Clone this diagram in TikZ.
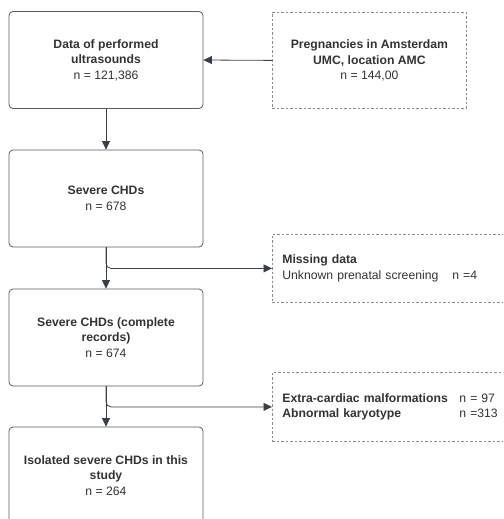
\documentclass[tikz,border=0pt]{standalone}
\usepackage{fontspec}
\setmainfont{Liberation Sans}
\usetikzlibrary{arrows.meta}
\definecolor{txt}{HTML}{333333}
\definecolor{ln}{HTML}{5C5C5C}
\definecolor{dln}{HTML}{8A8A8A}
\definecolor{arr}{HTML}{3A3F47}
\begin{document}
\begin{tikzpicture}[x=1pt,y=-1pt,
  every node/.style={font=\fontsize{12.2}{15.5}\selectfont, text=txt},
  mainbox/.style={draw=ln, line width=0.8pt, rounded corners=4pt, minimum width=194pt, minimum height=97pt, align=center, inner sep=4pt},
  sidebox/.style={draw=dln, line width=0.8pt, dash pattern=on 2.5pt off 2pt, anchor=north west, inner sep=10pt},
  conn/.style={draw=arr, line width=0.8pt, -{Triangle[length=8.5pt,width=8pt]}}]
\useasboundingbox (0,0) rectangle (503,519);
\clip (0,0) rectangle (503,519);
\node[mainbox] (b1) at (106,60) {\textbf{Data of performed}\\\textbf{ultrasounds}\\n = 121,386};
\node[sidebox, minimum width=194pt, minimum height=96pt, align=center] (src) at (272,12) {\textbf{Pregnancies in Amsterdam}\\\textbf{UMC, location AMC}\\n = 144,00};
\node[mainbox] (b2) at (106,198.5) {\textbf{Severe CHDs}\\n = 678};
\node[mainbox] (b3) at (106,337.5) {\textbf{Severe CHDs (complete}\\\textbf{records)}\\n = 674};
\node[mainbox] (b4) at (106,475.5) {\textbf{Isolated severe CHDs in this}\\\textbf{study}\\n = 264};
\node[sidebox, minimum width=260pt, minimum height=68pt, text width=240pt, align=left] (miss) at (272,234) {\textbf{Missing data}\\\makebox[170pt][l]{Unknown prenatal screening}n =4};
\node[sidebox, minimum width=260pt, minimum height=69pt, text width=240pt, align=left] (excl) at (272,372) {\makebox[177pt][l]{\textbf{Extra-cardiac malformations}}n = 97\\\makebox[177pt][l]{\textbf{Abnormal karyotype}}n =313};
\draw[conn] (src.west) -- (b1.east);
\draw[conn] (b1.south) -- (b2.north);
\draw[conn] (b2.south) -- (b3.north);
\draw[conn, rounded corners=5pt] (b2.south) |- (miss.west);
\draw[conn] (b3.south) -- (b4.north);
\draw[conn, rounded corners=5pt] (b3.south) |- (excl.west);
\end{tikzpicture}
\end{document}
